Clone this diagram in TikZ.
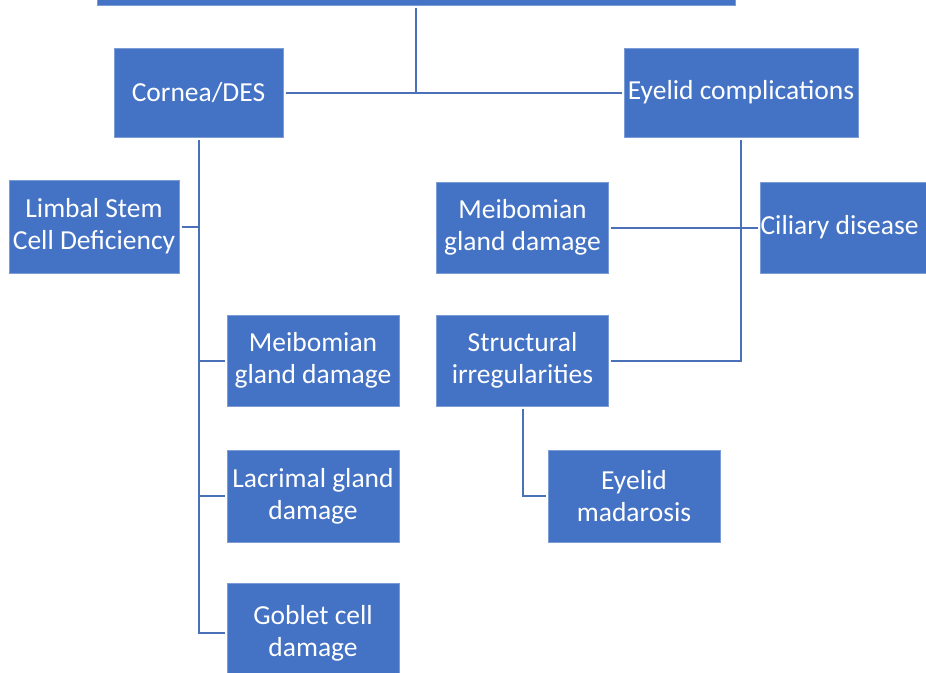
\documentclass[tikz,border=0pt]{standalone}
\usepackage{fontspec}
\setmainfont{Carlito}
\definecolor{boxblue}{HTML}{4472C4}
\definecolor{lineblue}{HTML}{4A70B8}
\begin{document}
\begin{tikzpicture}[x=1pt,y=-1pt,
  box/.style={fill=boxblue, draw=boxblue!70!white, line width=0.6pt, text=white, align=center,
    inner sep=0pt, outer sep=2.5pt, font=\fontsize{27.5}{32}\selectfont},
  conn/.style={draw=lineblue, line width=2pt}]
\useasboundingbox (0,0) rectangle (926,672);
\node[box, minimum width=638pt, minimum height=40pt] (top) at (416,-15) {};
\node[box, minimum width=169pt, minimum height=89pt] (cornea) at (198.5,92.5) {Cornea/DES};
\node[box, minimum width=234pt, minimum height=89pt] (eyelid) at (741,92.5) {Eyelid complications};
\node[box, minimum width=170pt, minimum height=93pt] (limbal) at (94,226.5) {Limbal Stem\\Cell Deficiency};
\node[box, minimum width=172pt, minimum height=91pt] (meiL) at (313,360.5) {Meibomian\\gland damage};
\node[box, minimum width=172pt, minimum height=92pt] (lacr) at (313,496) {Lacrimal gland\\damage};
\node[box, minimum width=172pt, minimum height=100pt] (goblet) at (313,633) {Goblet cell\\damage};
\node[box, minimum width=172pt, minimum height=91pt] (meiR) at (522.5,227.5) {Meibomian\\gland damage};
\node[box, minimum width=170pt, minimum height=91pt] (cil) at (846,227.5) {Ciliary disease\phantom{g}};
\node[box, minimum width=172pt, minimum height=91pt] (struct) at (522.5,360.5) {Structural\\irregularities};
\node[box, minimum width=172pt, minimum height=92pt] (mad) at (634,496) {Eyelid\\madarosis};
% connectors
\draw[conn] (top.south) -- (top.south |- cornea.east);
\draw[conn] (cornea.east) -- (eyelid.west);
\draw[conn] (cornea.south) -- (cornea.south |- goblet.west) -- (goblet.west);
\draw[conn] (limbal.east) -- (limbal.east -| cornea.south);
\draw[conn] (meiL.west) -- (meiL.west -| cornea.south);
\draw[conn] (lacr.west) -- (lacr.west -| cornea.south);
\draw[conn] (eyelid.south) -- (eyelid.south |- struct.east) -- (struct.east);
\draw[conn] (meiR.east) -- (cil.west);
\draw[conn] (struct.south) -- (struct.south |- mad.west) -- (mad.west);
\end{tikzpicture}
\end{document}
